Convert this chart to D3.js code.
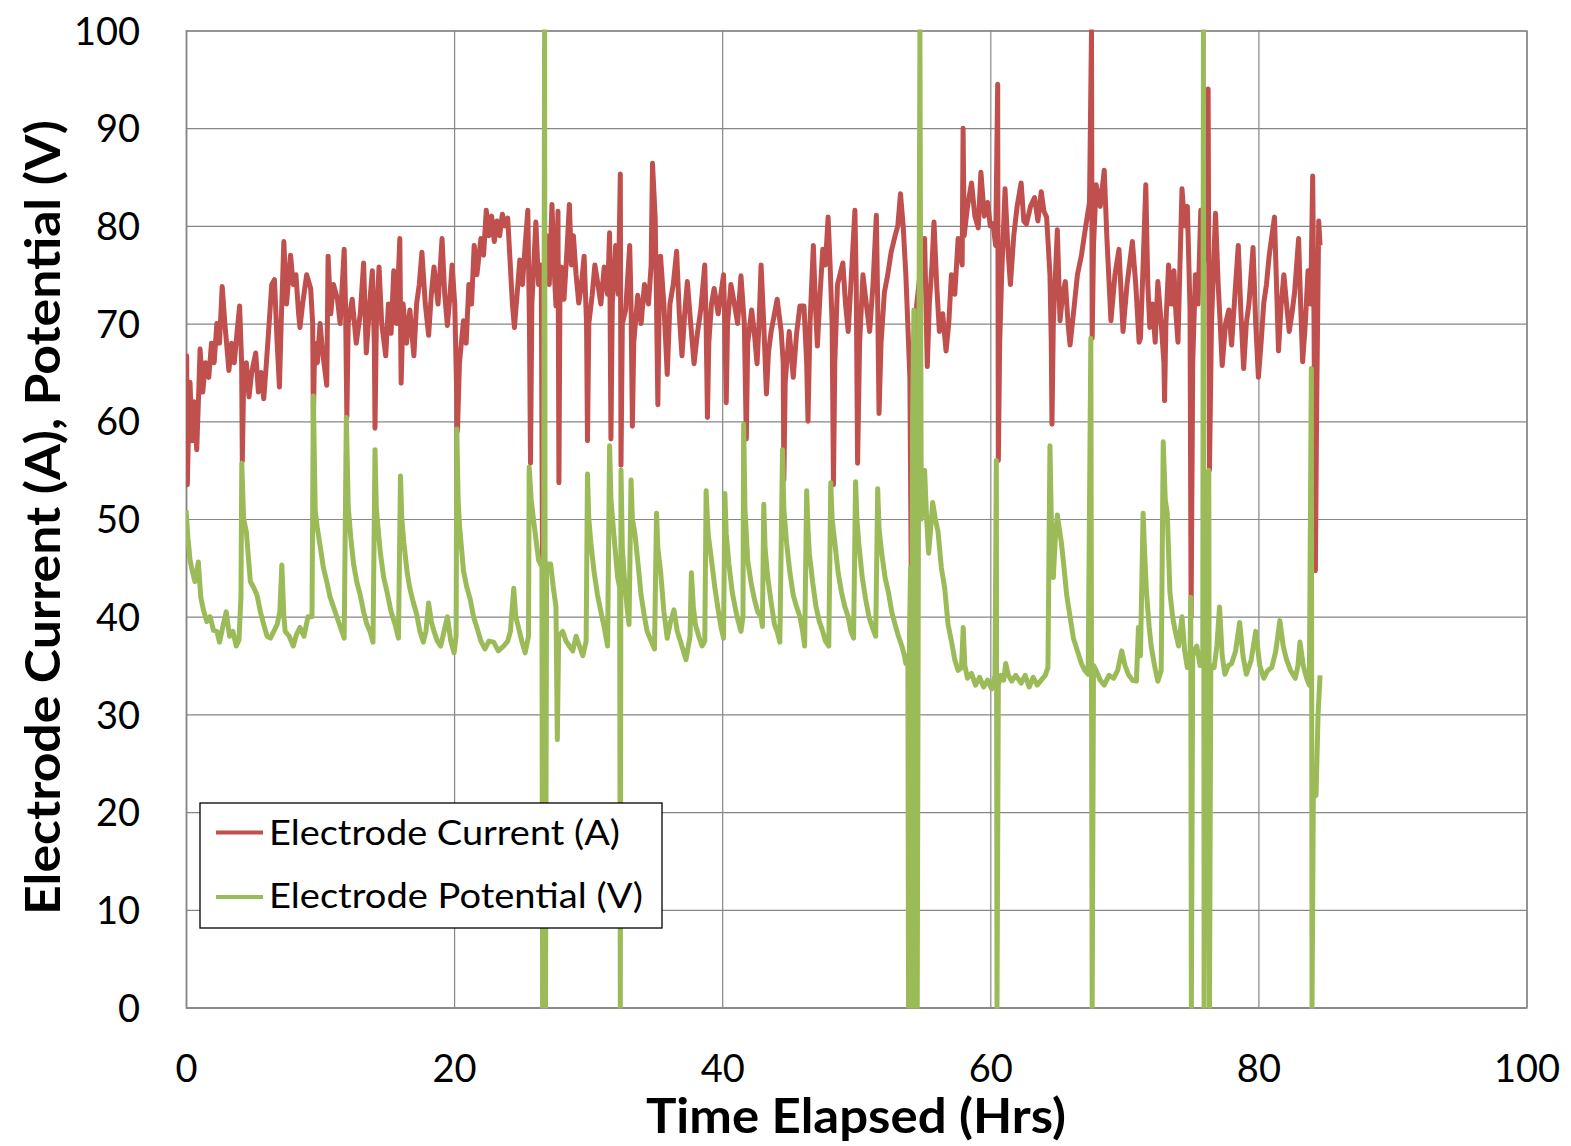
<!DOCTYPE html>
<html>
<head>
<meta charset="utf-8">
<script src="https://cdn.jsdelivr.net/npm/d3@7"></script>
<style>
  html, body { margin: 0; padding: 0; background: #ffffff; }
  svg { display: block; }
  text { font-family: Lato, "Open Sans", "Noto Sans", sans-serif; fill: #000; }
</style>
</head>
<body>
<svg id="chart" width="1571" height="1146"></svg>
<script>
// ---------- data ----------
const xTicks = [0, 20, 40, 60, 80, 100];
const yTicks = [0, 10, 20, 30, 40, 50, 60, 70, 80, 90, 100];
const seriesNames = ["Electrode Current (A)", "Electrode Potential (V)"];
const seriesColors = ["#C0504D", "#9BBB59"];
const xTitle = "Time Elapsed (Hrs)";
const yTitle = "Electrode Current (A), Potential (V)";

// [hours, amps]
const currentSeries = [[0,62],[0.05,66.7],[0.1,53.5],[0.2,60],[0.3,64],[0.45,58],[0.6,62],[0.8,57.1],[0.95,63],[1.05,67.4],[1.25,63],[1.45,66],[1.7,64.5],[1.9,68],[2.1,66],[2.3,70],[2.5,68],[2.7,73.8],[2.9,70],[3.2,65.2],[3.4,68],[3.6,66],[3.8,69],[4.0,71.8],[4.15,66],[4.2,55.9],[4.3,64],[4.5,66],[4.7,62.5],[4.9,65],[5.2,67],[5.4,63],[5.6,65],[5.8,62.3],[6.0,66],[6.2,70],[6.4,74],[6.6,74.5],[6.8,68],[6.97,63.5],[7.1,70],[7.3,78.4],[7.5,72],[7.8,77],[8.0,74],[8.2,75],[8.4,71],[8.5,69.6],[8.7,72],[9.0,75],[9.3,73.6],[9.45,70],[9.5,59.9],[9.6,68],[9.8,66],[10.0,70],[10.2,67],[10.5,63.7],[10.6,76.9],[10.8,71],[11.0,74],[11.3,72.5],[11.5,70],[11.8,77.6],[11.9,72],[12.0,60.4],[12.1,70],[12.4,72.5],[12.7,68],[13.0,71],[13.25,76.2],[13.45,67],[13.7,72],[13.9,75.4],[14.05,68],[14.1,59.3],[14.2,70],[14.4,75.8],[14.6,70],[14.9,66.7],[15.1,72],[15.3,69],[15.5,75.4],[15.7,70],[15.95,78.7],[16.05,63.9],[16.2,72],[16.45,68],[16.7,71.4],[17.0,66.7],[17.2,72],[17.4,74],[17.6,77.3],[17.85,72],[18.1,68.8],[18.3,73],[18.5,75.8],[18.8,72],[19.1,78.7],[19.3,73],[19.5,69.8],[19.7,73],[19.85,76],[20.05,72],[20.25,59],[20.4,66],[20.7,70.3],[20.9,68],[21.1,74],[21.3,72],[21.5,78],[21.7,75],[22.0,78.7],[22.2,77],[22.4,81.6],[22.6,79],[22.8,81],[23.0,78.4],[23.2,80.5],[23.4,79],[23.6,81.2],[23.8,80],[24.0,80.8],[24.2,75.8],[24.35,72],[24.5,69.6],[24.7,73],[24.9,76.5],[25.1,74],[25.3,78],[25.5,81.6],[25.62,70],[25.7,55.7],[25.8,72],[26.1,80.4],[26.3,74],[26.5,76],[26.6,44],[26.7,75],[26.9,79],[27.1,74],[27.3,82.2],[27.45,76],[27.6,71.8],[27.75,81.5],[27.82,53.7],[27.9,74],[28.0,75.8],[28.2,72.5],[28.4,77],[28.6,82.2],[28.75,76],[28.9,79],[29.1,75],[29.3,72.1],[29.5,74],[29.7,76.9],[29.88,70],[29.95,58],[30.05,70],[30.3,72.9],[30.5,76],[30.7,74.3],[30.95,72],[31.2,75.8],[31.45,73],[31.6,79.3],[31.7,58.2],[31.8,72],[32.05,78],[32.25,73],[32.4,85.3],[32.45,55.5],[32.55,70],[32.8,71.4],[33.1,78],[33.2,72],[33.3,59.5],[33.4,68],[33.7,72.9],[33.95,70],[34.2,74],[34.5,72],[34.7,76],[34.8,86.4],[35.0,80.9],[35.1,72],[35.2,61.7],[35.3,72],[35.4,76.9],[35.65,72],[35.9,64.8],[36.1,72],[36.35,74],[36.6,77.4],[36.8,71],[37.0,66.7],[37.2,71],[37.4,74.3],[37.65,70],[37.9,65.9],[38.15,69],[38.4,71.4],[38.7,76],[38.8,70],[38.9,60.4],[39.0,68],[39.2,72],[39.4,73.6],[39.7,71],[40.1,75],[40.2,70],[40.3,61.9],[40.4,70],[40.65,74],[40.9,72.1],[41.15,70],[41.4,74.9],[41.65,70],[41.8,58.2],[41.9,68],[42.2,71.4],[42.4,69],[42.6,65.9],[42.75,70],[42.9,76],[43.1,70],[43.3,62.8],[43.45,67],[43.65,69.2],[43.9,71],[44.1,72.5],[44.4,69.2],[44.55,66],[44.6,54],[44.7,64],[45.0,69.2],[45.3,64.5],[45.55,69],[45.8,71.8],[46.1,71.8],[46.3,66],[46.4,60],[46.55,70],[46.8,78],[46.95,72],[47.1,67.7],[47.3,73],[47.5,77.6],[47.7,76],[47.9,80.9],[48.05,76],[48.2,70],[48.3,53.5],[48.4,66],[48.6,74],[49.0,76.2],[49.2,72],[49.4,69.2],[49.6,74],[49.9,81.6],[50.0,74],[50.1,55.7],[50.25,68],[50.5,75],[50.75,72],[51.0,69.2],[51.25,74],[51.5,81.1],[51.6,72],[51.7,60.8],[51.85,68],[52.1,73.2],[52.35,75],[52.6,77.3],[52.9,79],[53.1,80],[53.3,83.3],[53.5,80],[53.7,75],[54.0,64.5],[54.1,44.7],[54.25,60],[54.5,71.8],[54.75,75],[55.1,78.7],[55.2,72],[55.3,65.6],[55.45,72],[55.65,76],[55.8,80.4],[56.0,74],[56.2,69.2],[56.45,71],[56.7,67.2],[56.9,70],[57.1,75],[57.35,73],[57.6,78.7],[57.9,76],[57.97,90],[58.05,79],[58.3,82],[58.6,84.4],[58.85,81],[59.1,79.8],[59.3,85.5],[59.55,81],[59.8,82.4],[60.0,80],[60.2,80.2],[60.4,78],[60.55,94.5],[60.6,56],[60.7,68],[60.85,75],[61.1,83.8],[61.3,78],[61.5,74],[61.75,79],[62.0,82],[62.3,84.4],[62.5,80.5],[62.7,80.2],[63.0,82],[63.3,82.9],[63.55,80.5],[63.8,83.5],[64.0,81.5],[64.2,80.9],[64.45,75],[64.55,68],[64.6,59.7],[64.7,70],[65.0,79.6],[65.2,70.3],[65.4,73],[65.6,74.3],[65.8,70],[65.95,67.8],[66.2,71],[66.5,75],[66.8,77],[67.1,79.8],[67.4,82.4],[67.55,100],[67.6,68.5],[67.7,78],[67.9,84.2],[68.2,82],[68.5,85.7],[68.7,78.7],[69.0,70.3],[69.3,75],[69.6,77.6],[69.9,69.2],[70.2,74],[70.6,78.4],[70.85,74],[71.1,68.1],[71.2,68.5],[71.4,76],[71.6,84.2],[71.75,74],[71.9,69.6],[72.1,72],[72.3,68.1],[72.5,74.3],[72.75,70],[72.95,66],[73.0,62.1],[73.1,70],[73.3,76],[73.5,72],[73.7,75.4],[73.85,71],[74.0,68.1],[74.15,76],[74.3,83.8],[74.5,80],[74.7,82],[74.9,71.4],[74.98,40],[75.1,66],[75.3,75],[75.5,72],[75.7,81.6],[75.9,76],[76.1,80],[76.25,94],[76.35,55],[76.5,70],[76.8,81.3],[77.0,74],[77.15,70],[77.3,65.7],[77.55,70],[77.8,71.4],[78.0,67.8],[78.25,73],[78.5,78],[78.7,71],[78.9,65.4],[79.1,70],[79.3,72.1],[79.6,77.8],[79.8,70],[80.0,64.5],[80.2,68],[80.4,72.1],[80.6,74],[80.8,76.9],[81.2,80.9],[81.35,74],[81.5,67.2],[81.7,72],[81.9,75],[82.1,72],[82.3,69.2],[82.5,71],[82.7,73.2],[83.0,78.7],[83.15,72],[83.3,66.1],[83.5,70],[83.7,75.4],[83.9,72],[84.05,85.1],[84.15,70],[84.25,44.7],[84.35,62],[84.5,80.5],[84.6,78]];

// [hours, volts]
const potentialSeries = [[0,50.9],[0.15,48],[0.3,45.8],[0.5,44.5],[0.67,43.6],[0.92,45.6],[1.1,42],[1.3,40.7],[1.55,39.5],[1.8,40],[2.05,38.6],[2.3,38.5],[2.5,37.4],[2.75,39],[3.0,40.5],[3.25,38],[3.5,38.5],[3.75,37],[3.95,37.6],[4.1,42],[4.16,55.7],[4.3,50],[4.5,48.7],[4.8,43.6],[5.05,43],[5.3,42.2],[5.55,40.5],[5.8,39.2],[6.05,38],[6.3,37.8],[6.55,38.5],[6.8,39.2],[7.0,40.5],[7.15,45.3],[7.3,40],[7.4,38.5],[7.7,38],[8.0,37],[8.25,38.2],[8.5,38.9],[8.8,38],[9.1,40],[9.4,40],[9.5,62.6],[9.64,50.9],[9.8,49],[10.0,47.3],[10.25,45],[10.5,43.6],[10.75,42],[11.0,41],[11.25,40],[11.5,39],[11.8,37.8],[11.96,60.4],[12.1,51.3],[12.3,48],[12.5,45.4],[12.75,43.5],[13.0,42.2],[13.25,40.5],[13.5,39.2],[13.75,38.4],[13.95,37.4],[14.1,57.1],[14.2,51],[14.5,46.5],[14.75,44],[15.0,42.5],[15.3,40.5],[15.6,39.2],[15.85,37.8],[16.0,54.4],[16.1,50],[16.25,47.6],[16.5,44.5],[16.7,42.9],[16.95,41.5],[17.2,40.3],[17.45,38.5],[17.7,37.4],[17.9,38.5],[18.1,41.4],[18.3,39.5],[18.5,38.5],[18.75,37.5],[19.0,37],[19.25,38.5],[19.5,40],[19.75,37.5],[20.0,36.3],[20.15,38],[20.2,59.2],[20.3,52],[20.4,49.4],[20.7,44.7],[20.95,43],[21.2,41.8],[21.45,40],[21.7,38.9],[22.0,37.5],[22.3,36.7],[22.6,37.5],[22.95,37.4],[23.3,36.5],[23.7,37],[24.0,37.5],[24.2,38.5],[24.45,42.9],[24.6,40],[24.8,38.9],[25.05,37.5],[25.3,36.3],[25.55,38],[25.6,55.3],[25.75,52],[25.9,50.2],[26.1,48],[26.3,45.8],[26.55,45.1],[26.6,0],[26.68,45],[26.75,100],[26.82,0],[26.9,45.4],[27.2,45.4],[27.4,43],[27.6,41],[27.7,27.4],[27.8,38],[28.1,38.5],[28.35,37.5],[28.6,37],[28.85,36.5],[29.1,38],[29.35,37],[29.6,36],[29.85,37.5],[29.95,54.6],[30.05,50],[30.2,47.6],[30.45,44.5],[30.7,42.2],[30.95,40.5],[31.2,38.9],[31.45,37],[31.6,57.5],[31.7,52],[31.9,48.7],[32.2,44],[32.35,43],[32.4,0],[32.45,55],[32.55,47],[32.7,44],[32.9,41],[33.05,39.2],[33.2,54],[33.3,50],[33.5,48.4],[33.75,45],[33.95,42.2],[34.2,40],[34.4,38.5],[34.7,37.5],[34.95,36.7],[35.1,50.6],[35.2,47],[35.4,44.7],[35.65,40.5],[35.9,37.8],[36.15,39.5],[36.4,40.7],[36.65,38.5],[36.9,37.4],[37.1,36.5],[37.3,35.6],[37.6,38],[37.7,44.5],[37.85,41],[38.0,39.2],[38.25,38],[38.5,37],[38.7,37.5],[38.8,52.9],[38.95,48.5],[39.2,45.8],[39.45,43],[39.7,40.7],[39.9,39],[40.1,37.8],[40.2,52.6],[40.3,48.5],[40.5,45.4],[40.75,42.5],[41.0,40.7],[41.2,39.5],[41.4,38.5],[41.55,40],[41.6,59.7],[41.7,51],[41.9,45.8],[42.15,43.5],[42.4,41.8],[42.65,40.5],[42.9,40],[43.0,39],[43.1,51.5],[43.2,47],[43.4,44],[43.65,41.5],[43.9,39.2],[44.1,38.5],[44.3,37.4],[44.5,57.1],[44.6,51],[44.8,47.6],[45.05,44.5],[45.3,42.2],[45.55,41],[45.8,40],[46.0,38.5],[46.15,37],[46.3,52.9],[46.4,49],[46.5,46.5],[46.75,43.5],[47.0,41],[47.25,39.5],[47.5,38.5],[47.7,37.5],[47.95,37],[48.1,53.7],[48.2,50],[48.4,47.6],[48.65,44.5],[48.9,42.5],[49.15,41],[49.4,40],[49.6,38.5],[49.8,37.8],[49.95,53.8],[50.05,50],[50.2,47.3],[50.45,44],[50.7,41.8],[50.95,40],[51.2,38.9],[51.45,38],[51.6,53.1],[51.7,49],[51.9,46.5],[52.15,44],[52.4,42.5],[52.65,40.5],[52.9,39.2],[53.15,38],[53.4,37],[53.6,36],[53.7,35.2],[53.85,36],[53.9,0],[53.97,38],[54.05,45],[54.1,0],[54.2,60],[54.3,71.4],[54.35,0],[54.45,65],[54.55,0],[54.65,55],[54.75,100],[54.85,50],[55.0,53],[55.1,55],[55.25,50],[55.4,46.5],[55.55,49],[55.7,51.7],[55.9,50],[56.1,48.7],[56.35,45],[56.6,42.9],[56.85,39.2],[57.1,37.5],[57.35,35.6],[57.6,34.5],[57.85,34.8],[57.98,38.9],[58.1,35],[58.3,33.7],[58.6,34.2],[58.9,33],[59.2,33.8],[59.5,32.8],[59.8,33.5],[60.1,32.6],[60.35,34],[60.45,56],[60.5,0],[60.6,33],[60.8,34],[61.0,33.5],[61.15,35.2],[61.35,34],[61.6,33.4],[61.9,34],[62.3,33.2],[62.6,34],[62.9,32.8],[63.2,33.8],[63.5,33],[63.8,33.5],[64.1,34],[64.3,34.8],[64.45,57.5],[64.55,50],[64.7,44],[64.85,48],[65.0,50.4],[65.15,49],[65.3,47.6],[65.5,45],[65.7,42.2],[65.95,40],[66.2,37.8],[66.5,36.5],[66.8,35.2],[67.05,34.5],[67.3,34.1],[67.5,68.5],[67.6,0],[67.7,35],[67.9,34.5],[68.2,33.5],[68.5,33],[68.85,34],[69.2,33.7],[69.5,34.5],[69.8,36.5],[70.05,35],[70.3,34.1],[70.6,33.5],[70.9,33.4],[71.05,38.9],[71.2,36],[71.4,50.6],[71.5,47],[71.65,42.5],[71.85,39],[72.0,37],[72.25,35],[72.5,33.4],[72.75,34.5],[72.9,57.9],[73.05,52],[73.2,50.6],[73.4,42.5],[73.6,40],[73.8,38.5],[74.05,37],[74.3,40],[74.5,36.5],[74.7,34.8],[74.9,36],[74.95,42],[75.0,0],[75.1,36],[75.4,37],[75.65,35],[75.85,36],[75.9,100],[75.95,0],[76.05,36],[76.2,40],[76.3,55],[76.35,0],[76.45,35],[76.7,34.8],[76.9,37],[77.1,41],[77.3,36],[77.5,34.1],[77.75,35],[78.0,35.2],[78.3,36.5],[78.6,39.4],[78.85,36],[79.1,34.1],[79.45,35.5],[79.8,38.5],[80.1,35],[80.4,33.7],[80.7,34.5],[81.0,34.8],[81.3,36.5],[81.6,39.6],[81.85,37],[82.1,35.6],[82.4,34.5],[82.75,33.7],[82.95,35],[83.1,37.4],[83.35,35],[83.6,33.7],[83.8,33],[83.95,65.4],[84.0,0],[84.1,22],[84.3,21.7],[84.45,30],[84.6,34]];

// ---------- layout ----------
const svg = d3.select("#chart");
const W = 1571, H = 1146;
const plot = { left: 186, right: 1526.5, top: 30.5, bottom: 1007.5 };

svg.append("rect").attr("width", W).attr("height", H).attr("fill", "#ffffff");

const x = d3.scaleLinear().domain([0, 100]).range([plot.left, plot.right]);
const y = d3.scaleLinear().domain([0, 100]).range([plot.bottom, plot.top]);

const gridColor = "#868686";

// vertical grid lines via axis
const gx = svg.append("g")
  .attr("transform", `translate(0,${plot.bottom})`)
  .call(d3.axisBottom(x).tickValues(xTicks).tickSize(-(plot.bottom - plot.top)).tickFormat(d3.format("d")));
gx.select(".domain").attr("stroke", gridColor).attr("stroke-width", 1.4);
gx.selectAll(".tick line").attr("stroke", gridColor).attr("stroke-width", 1.2);
gx.selectAll(".tick text")
  .attr("font-family", "Lato, 'Open Sans', sans-serif")
  .attr("font-size", 38)
  .attr("fill", "#000")
  .attr("dy", 0)
  .attr("y", 74);

// horizontal grid lines via axis
const gy = svg.append("g")
  .attr("transform", `translate(${plot.left},0)`)
  .call(d3.axisLeft(y).tickValues(yTicks).tickSize(-(plot.right - plot.left)).tickFormat(d3.format("d")));
gy.select(".domain").attr("stroke", gridColor).attr("stroke-width", 1.4);
gy.selectAll(".tick line").attr("stroke", gridColor).attr("stroke-width", 1.2);
gy.selectAll(".tick text")
  .attr("font-family", "Lato, 'Open Sans', sans-serif")
  .attr("font-size", 38)
  .attr("fill", "#000")
  .attr("x", -46)
  .attr("dy", "0.36em");

// ---------- series ----------
const line = d3.line().x(d => x(d[0])).y(d => y(d[1]));

const clipId = "plotclip";
svg.append("clipPath").attr("id", clipId)
  .append("rect")
  .attr("x", plot.left).attr("y", plot.top - 1)
  .attr("width", plot.right - plot.left).attr("height", plot.bottom - plot.top + 2);

const seriesG = svg.append("g").attr("clip-path", `url(#${clipId})`);
[currentSeries, potentialSeries].forEach((s, i) => {
  seriesG.append("path")
    .datum(s)
    .attr("d", line)
    .attr("fill", "none")
    .attr("stroke", seriesColors[i])
    .attr("stroke-width", 5)
    .attr("stroke-linejoin", "round")
    .attr("stroke-linecap", "butt");
});

// ---------- axis titles ----------
svg.append("text")
  .attr("x", 856)
  .attr("y", 1133)
  .attr("text-anchor", "middle")
  .attr("font-weight", "bold")
  .attr("font-size", 47)
  .attr("textLength", 420)
  .attr("lengthAdjust", "spacingAndGlyphs")
  .text(xTitle);

svg.append("text")
  .attr("transform", `translate(60,${(120 + 915) / 2}) rotate(-90)`)
  .attr("text-anchor", "middle")
  .attr("font-weight", "bold")
  .attr("font-size", 47)
  .attr("textLength", 795)
  .attr("lengthAdjust", "spacingAndGlyphs")
  .text(yTitle);

// ---------- legend ----------
const leg = svg.append("g");
leg.append("rect")
  .attr("x", 200).attr("y", 803)
  .attr("width", 462).attr("height", 125)
  .attr("fill", "#ffffff")
  .attr("stroke", "#000000")
  .attr("stroke-width", 1.3);

const legRows = [
  { sampleY: 832.5, baseY: 845, textLen: 351 },
  { sampleY: 897, baseY: 908, textLen: 374 }
];
seriesNames.forEach((name, i) => {
  leg.append("line")
    .attr("x1", 216).attr("x2", 263)
    .attr("y1", legRows[i].sampleY).attr("y2", legRows[i].sampleY)
    .attr("stroke", seriesColors[i])
    .attr("stroke-width", 4);
  leg.append("text")
    .attr("x", 269)
    .attr("y", legRows[i].baseY)
    .attr("font-size", 34)
    .attr("textLength", legRows[i].textLen)
    .attr("lengthAdjust", "spacingAndGlyphs")
    .text(name);
});
</script>
</body>
</html>
